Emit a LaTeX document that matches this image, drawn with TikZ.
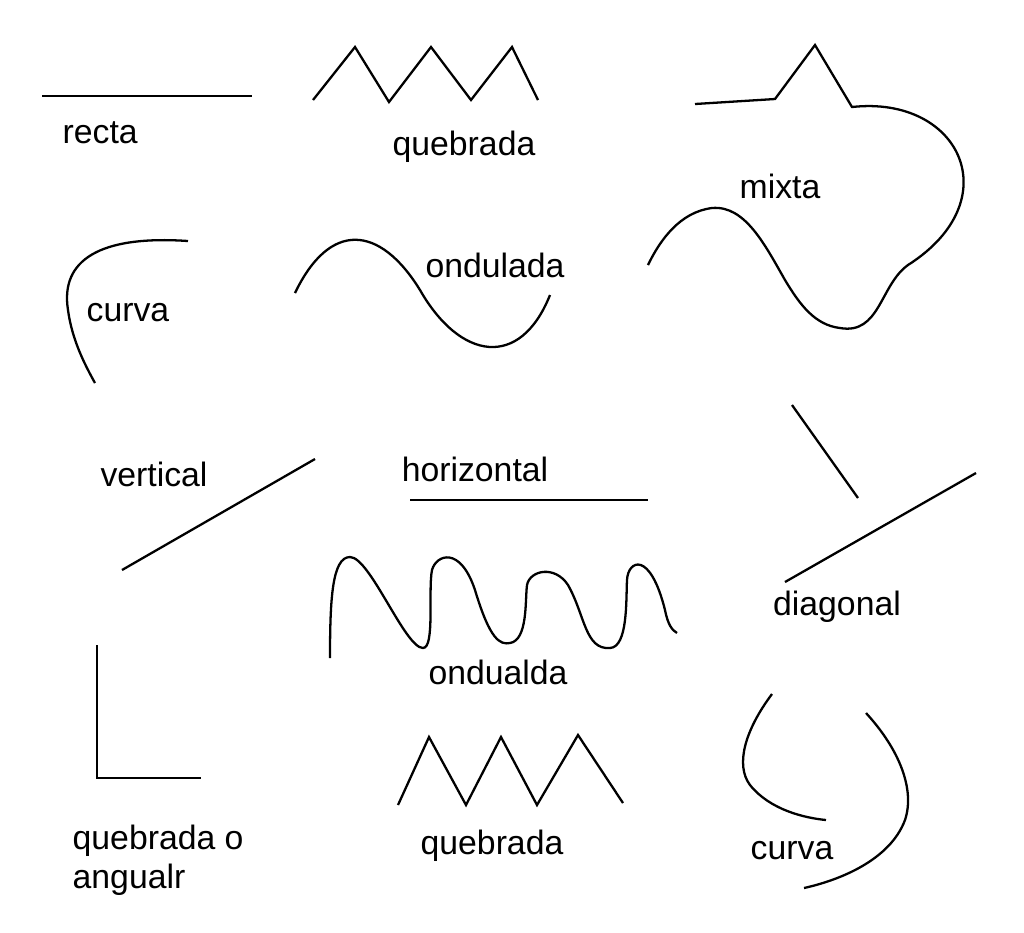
\documentclass[tikz,border=0pt]{standalone}
\usepackage{fontspec}
\setmainfont{Liberation Sans}
\begin{document}
\begin{tikzpicture}[x=0.01cm,y=-0.01cm,
  ln/.style={line width=0.65pt,line join=miter},
  lbl/.style={font=\fontsize{9.6}{11.5}\selectfont,inner sep=0pt}]
\useasboundingbox (0,0) rectangle (1024,932);
% recta
\draw[ln] (42,96) -- (252,96);
\node[lbl,anchor=west] (t1) at (62,133) {recta};
% quebrada top
\draw[ln] (313,100)--(355,47)--(389,102)--(431,47)--(471,100)--(512,47)--(538,100);
\node[lbl] (t2) at (464,147) {quebrada};
% mixta
\draw[ln] (695,104)--(775,99)--(815,45)--(852,107)
  .. controls (960,95) and (1010,200) .. (908,265)
  .. controls (880,285) and (880,335) .. (840,328)
  .. controls (815,325) and (800,305) .. (785,280)
  .. controls (765,245) and (745,205) .. (712,208)
  .. controls (680,212) and (660,240) .. (648,265);
\node[lbl] (t3) at (780,186) {mixta};
% curva top-left
\draw[ln] (188,241) .. controls (100,235) and (60,260) .. (68,310) .. controls (72,340) and (85,365) .. (95,383);
\node[lbl] (t4) at (128,313) {curva};
% ondulada
\draw[ln] (295,293) .. controls (330,220) and (380,225) .. (420,290) .. controls (460,360) and (520,370) .. (550,295);
\node[lbl] (t5) at (495,265) {ondulada};
% vertical, horizontal, diagonal
\node[lbl] (t6) at (154,474) {vertical};
\draw[ln] (122,570) -- (315,459);
\node[lbl] (t7) at (475,469) {horizontal};
\draw[ln] (410,500) -- (648,500);
\draw[ln] (792,405) -- (858,498);
\draw[ln] (785,582) -- (976,473);
\node[lbl] (t8) at (837,607) {diagonal};
% ondualda
\draw[ln] (330,658) .. controls (330,600) and (332,557) .. (350,557)
  .. controls (370,557) and (405,648) .. (423,648)
  .. controls (435,648) and (428,590) .. (432,570)
  .. controls (436,555) and (460,545) .. (475,590)
  .. controls (490,640) and (500,645) .. (510,643)
  .. controls (528,640) and (525,600) .. (527,585)
  .. controls (530,570) and (555,565) .. (568,585)
  .. controls (585,615) and (585,650) .. (610,648)
  .. controls (628,647) and (626,600) .. (627,580)
  .. controls (628,560) and (650,550) .. (665,610)
  .. controls (668,625) and (672,630) .. (677,633);
\node[lbl] (t9) at (498,672) {ondualda};
% L
\draw[ln] (97,645) -- (97,778) -- (201,778);
\node[lbl,anchor=west] (t10) at (72,841) {quebrada o};
\node[lbl,anchor=west] (t11) at (72,880) {angualr};
% quebrada bottom
\draw[ln] (398,805)--(429,737)--(466,805)--(501,737)--(537,805)--(578,735)--(623,803);
\node[lbl] (t12) at (492,846) {quebrada};
% curva bottom right
\draw[ln] (772,694) .. controls (745,730) and (735,765) .. (750,785) .. controls (770,810) and (805,818) .. (826,820);
\draw[ln] (866,713) .. controls (900,750) and (915,790) .. (905,820) .. controls (890,860) and (840,880) .. (804,888);
\node[lbl] (t13) at (792,851) {curva};
\end{tikzpicture}
\end{document}
